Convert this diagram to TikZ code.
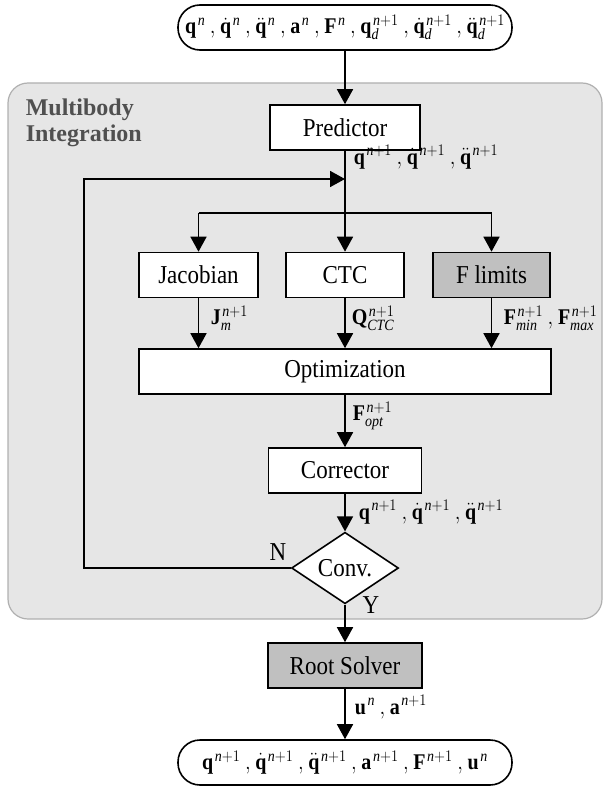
\documentclass[tikz,border=0pt]{standalone}
\usepackage{fontspec}
\setmainfont{Liberation Serif}
\usepackage{graphicx}
\usetikzlibrary{arrows.meta,shapes.geometric}
\definecolor{bggray}{HTML}{E6E6E6}
\definecolor{bgline}{HTML}{B0B0B0}
\definecolor{boxgray}{HTML}{C0C0C0}
\definecolor{titlegray}{HTML}{505050}
\newcommand\vs[1]{\scalebox{1}[1.12]{#1}}
\newcommand\bq{\mathbf{q}}
\newcommand\dq{\dot{\mathbf{q}}}
\newcommand\ddq{\ddot{\mathbf{q}}}
\newcommand\np{\mkern2mu\mathit{n}+1}
\newcommand\nn{\mkern2mu\mathit{n}}
\newcommand\sep{\mkern4mu,\mkern1mu}
\begin{document}
\begin{tikzpicture}[x=1pt,y=-1pt,
  line width=1.6pt,
  font=\fontsize{23}{27}\selectfont,
  mfont/.style={font=\fontsize{20}{24}\selectfont},
  arr/.style={-{Triangle[length=15pt,width=16pt]}},
  blk/.style={draw,fill=white,minimum height=45pt,inner sep=0pt},
  gblk/.style={blk,fill=boxgray},
  term/.style={draw,fill=white,rounded corners=22pt,minimum height=45pt,minimum width=334pt,inner sep=0pt,mfont},
  lbl/.style={anchor=west,inner sep=0pt,mfont},
]
\useasboundingbox (0,0) rectangle (603,789);
% background group
\node[draw=bgline,fill=bggray,line width=1.2pt,rounded corners=20pt,
  minimum width=594pt,minimum height=536pt,inner sep=0pt] (bg) at (305,351) {};
\node[anchor=base west,inner sep=0pt,text=titlegray,font=\fontsize{24}{28}\selectfont\bfseries] (t1) at (25,116) {Multibody};
\node[anchor=base west,inner sep=0pt,text=titlegray,font=\fontsize{24}{28}\selectfont\bfseries] (t2) at (25,142) {Integration};

% nodes
\node[term] (top) at (345,27.5) {\vs{$\bq^{\nn}\sep\dq^{\nn}\sep\ddq^{\nn}\sep\mathbf{a}^{\nn}\sep\mathbf{F}^{\nn}\sep\bq_{\mathit{d}}^{\np}\sep\dq_{\mathit{d}}^{\np}\sep\ddq_{\mathit{d}}^{\np}$}};
\node[blk,minimum width=150pt] (pred) at (345,127.5) {\vs{Predictor}};
\node[blk,minimum width=119pt] (jac) at (198.5,275) {\vs{Jacobian}};
\node[blk,minimum width=118pt] (ctc) at (345,275) {\vs{CTC}};
\node[gblk,minimum width=117pt] (flim) at (491.5,275) {\vs{F limits}};
\node[blk,minimum width=412pt] (opt) at (345,371.5) {\vs{Optimization}};
\node[blk,minimum width=153pt] (corr) at (345,470.5) {\vs{Corrector}};
\node[draw,fill=white,diamond,minimum width=107pt,minimum height=58pt,inner sep=0pt] (conv) at (345,568) {\vs{Conv.}};
\node[gblk,minimum width=154pt] (root) at (345,665.5) {\vs{Root Solver}};
\node[term] (bot) at (345,762.5) {\vs{$\bq^{\np}\sep\dq^{\np}\sep\ddq^{\np}\sep\mathbf{a}^{\np}\sep\mathbf{F}^{\np}\sep\mathbf{u}^{\nn}$}};

% coordinates
\coordinate (join) at (345,179);
\coordinate (split) at (345,213);
\coordinate (sl) at (198.5,213);
\coordinate (sr) at (491.5,213);
\coordinate (loopa) at (84,568);
\coordinate (loopb) at (84,179);

% connectors
\draw[arr] (top) -- (pred);
\draw (pred) -- (split);
\draw (sl) -- (sr);
\draw[arr] (sl) -- (jac);
\draw[arr] (split) -- (ctc);
\draw[arr] (sr) -- (flim);
\draw[arr] (jac) -- (jac |- opt.north);
\draw[arr] (ctc) -- (opt);
\draw[arr] (flim) -- (flim |- opt.north);
\draw[arr] (opt) -- (corr);
\draw[arr] (corr) -- (conv);
\draw[arr] (conv.west) -- (loopa) -- (loopb) -- (join);
\draw[arr] (conv) -- (root);
\draw[arr] (root) -- (bot);

% labels
\node[lbl] (l1) at (353,157) {\vs{$\bq^{\np}\sep\dq^{\np}\sep\ddq^{\np}$}};
\node[lbl] (l2) at (210,318) {\vs{$\mathbf{J}_{\mathit{m}}^{\np}$}};
\node[lbl] (l3) at (351,318) {\vs{$\mathbf{Q}_{\mathit{CTC}}^{\np}$}};
\node[lbl] (l4) at (503,318) {\vs{$\mathbf{F}_{\mathit{min}}^{\np}\sep\mathbf{F}_{\mathit{max}}^{\np}$}};
\node[lbl] (l5) at (352,416) {\vs{$\mathbf{F}_{\mathit{opt}}^{\np}$}};
\node[lbl] (l6) at (358,512) {\vs{$\bq^{\np}\sep\dq^{\np}\sep\ddq^{\np}$}};
\node (lN) at (278,552) {\vs{N}};
\node (lY) at (371,605) {\vs{Y}};
\node[lbl] (l7) at (354,707) {\vs{$\mathbf{u}^{\nn}\sep\mathbf{a}^{\np}$}};
\end{tikzpicture}
\end{document}
